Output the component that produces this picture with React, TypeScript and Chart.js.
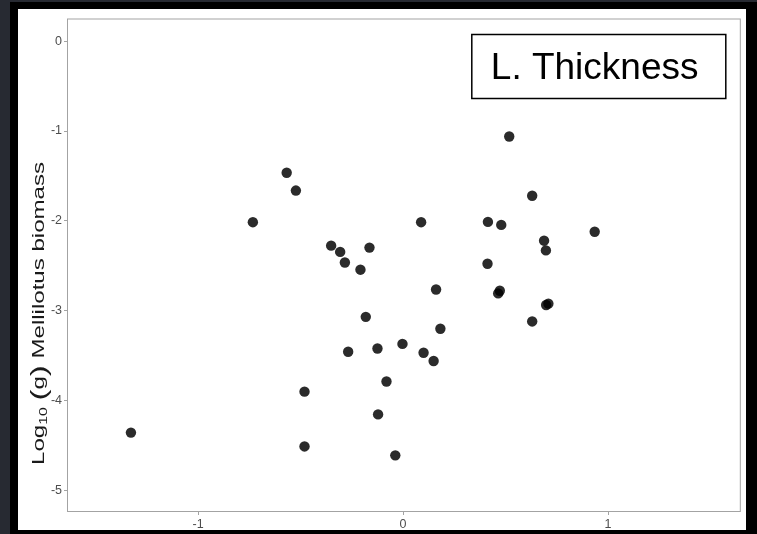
import React, { useEffect, useRef } from "react";
import { Chart, registerables } from "chart.js";

Chart.register(...registerables);

// Leaf thickness (standardised) against log10 Melilotus biomass
const leafThickness = [
  -1.328, -0.733, -0.568, -0.523, -0.481, -0.481, -0.351, -0.307, -0.284,
  -0.208, -0.164, -0.182, -0.268, -0.125, -0.122, -0.081, -0.038, -0.003,
  0.088, 0.1, 0.149, 0.161, 0.182, 0.414, 0.479, 0.412, 0.472, 0.464, 0.518,
  0.63, 0.63, 0.688, 0.697, 0.709, 0.698, 0.935,
];
const logBiomass = [
  -4.358, -2.015, -1.465, -1.663, -3.902, -4.512, -2.276, -2.346, -2.464,
  -2.544, -2.298, -3.069, -3.458, -3.422, -4.155, -3.789, -4.611, -3.37,
  -2.015, -3.469, -3.561, -2.764, -3.202, -2.012, -2.045, -2.478, -2.779,
  -2.808, -1.061, -1.721, -3.12, -2.221, -2.329, -2.922, -2.937, -2.122,
];

const xTickValues = [-1, 0, 1];
const xTickLabels = ["-1", "0", "1"];
const yTickValues = [0, -1, -2, -3, -4, -5];
const yTickLabels = ["0", "-1", "-2", "-3", "-4", "-5"];

const panelLabel = "L. Thickness";
const FONT = "'Liberation Sans', Arial, Helvetica, sans-serif";
const AXIS_GREY = "#a3a3a3";

// Full border round the panel plus the boxed panel label
const panelDecor = {
  id: "panelDecor",
  afterDraw(chart: any) {
    const { ctx, chartArea: a } = chart;
    ctx.save();
    ctx.strokeStyle = AXIS_GREY;
    ctx.lineWidth = 1;
    ctx.strokeRect(a.left + 0.5, a.top + 0.5, a.right - a.left - 1, a.bottom - a.top - 1);

    const bw = 254;
    const bh = 64;
    const bx = a.right - 15 - bw;
    const by = a.top + 16;
    ctx.fillStyle = "#ffffff";
    ctx.fillRect(bx, by, bw, bh);
    ctx.strokeStyle = "#000000";
    ctx.lineWidth = 1.5;
    ctx.strokeRect(bx, by, bw, bh);
    ctx.fillStyle = "#000000";
    ctx.font = `37px ${FONT}`;
    ctx.textAlign = "left";
    ctx.textBaseline = "alphabetic";
    ctx.fillText(panelLabel, bx + 19, by + 44);
    ctx.restore();
  },
};

// Rotated y-axis title with a subscripted base and enlarged brackets;
// the run of text is drawn with a wide character set-width
const yTitle = {
  id: "yTitle",
  afterDraw(chart: any) {
    const { ctx } = chart;
    const parts: [string, number, number][] = [
      ["Log", 16, 0],
      ["10", 10.5, 4],
      [" ", 16, 0],
      ["(", 22, 0],
      ["g", 16, 0],
      [")", 22, 0],
      [" Mellilotus biomass", 16, 0],
    ];
    ctx.save();
    let natural = 0;
    for (const [txt, size] of parts) {
      ctx.font = `${size}px ${FONT}`;
      natural += ctx.measureText(txt).width;
    }
    const stretch = 303 / natural;
    ctx.translate(22, 456);
    ctx.rotate(-Math.PI / 2);
    ctx.scale(stretch, 1);
    ctx.fillStyle = "#1a1a1a";
    ctx.textBaseline = "middle";
    ctx.textAlign = "left";
    let x = 0;
    for (const [txt, size, dy] of parts) {
      ctx.font = `${size}px ${FONT}`;
      ctx.fillText(txt, x, dy);
      x += ctx.measureText(txt).width;
    }
    ctx.restore();
  },
};

export default function App() {
  const canvasRef = useRef<HTMLCanvasElement | null>(null);

  useEffect(() => {
    const canvas = canvasRef.current;
    if (!canvas) return;
    const chart = new Chart(canvas, {
      type: "scatter",
      data: {
        datasets: [
          {
            data: leafThickness.map((x, i) => ({ x, y: logBiomass[i] })),
            backgroundColor: "rgba(0,0,0,0.83)",
            borderWidth: 0,
            pointRadius: 5.2,
            pointHoverRadius: 5.2,
          },
        ],
      },
      options: {
        animation: false,
        responsive: false,
        devicePixelRatio: 1,
        layout: { padding: { top: 4, right: 4, left: 0, bottom: 0 } },
        plugins: {
          legend: { display: false },
          tooltip: { enabled: false },
        },
        scales: {
          x: {
            type: "linear",
            min: -1.64,
            max: 1.648,
            afterFit: (s: any) => {
              s.height = 18;
            },
            afterBuildTicks: (s: any) => {
              s.ticks = xTickValues.map((value) => ({ value }));
            },
            border: { display: false },
            grid: {
              display: true,
              drawOnChartArea: false,
              drawTicks: true,
              tickLength: 3,
              tickColor: AXIS_GREY,
            },
            ticks: {
              padding: 2,
              color: "#4d4d4d",
              font: { family: FONT, size: 12.5 },
              callback: (v: any) => xTickLabels[xTickValues.indexOf(Number(v))] ?? "",
            },
          },
          y: {
            type: "linear",
            min: -5.242,
            max: 0.253,
            afterFit: (s: any) => {
              s.width = 49;
            },
            afterBuildTicks: (s: any) => {
              s.ticks = yTickValues.map((value) => ({ value }));
            },
            border: { display: false },
            grid: {
              display: true,
              drawOnChartArea: false,
              drawTicks: true,
              tickLength: 3,
              tickColor: AXIS_GREY,
            },
            ticks: {
              padding: 2,
              color: "#4d4d4d",
              font: { family: FONT, size: 12.5 },
              callback: (v: any) => yTickLabels[yTickValues.indexOf(Number(v))] ?? "",
            },
          },
        },
      },
      plugins: [panelDecor, yTitle],
    });
    return () => chart.destroy();
  }, []);

  return (
    <div
      style={{
        position: "fixed",
        left: 0,
        top: 0,
        width: 757,
        height: 534,
        background: "#272a32",
        overflow: "hidden",
      }}
    >
      <div
        style={{
          position: "absolute",
          left: 10,
          top: 2,
          width: 747,
          height: 532,
          background: "#000000",
        }}
      />
      <div
        style={{
          position: "absolute",
          left: 18,
          top: 9,
          width: 728,
          height: 521,
          background: "#ffffff",
        }}
      >
        <canvas ref={canvasRef} width={728} height={521} style={{ display: "block" }} />
      </div>
    </div>
  );
}
